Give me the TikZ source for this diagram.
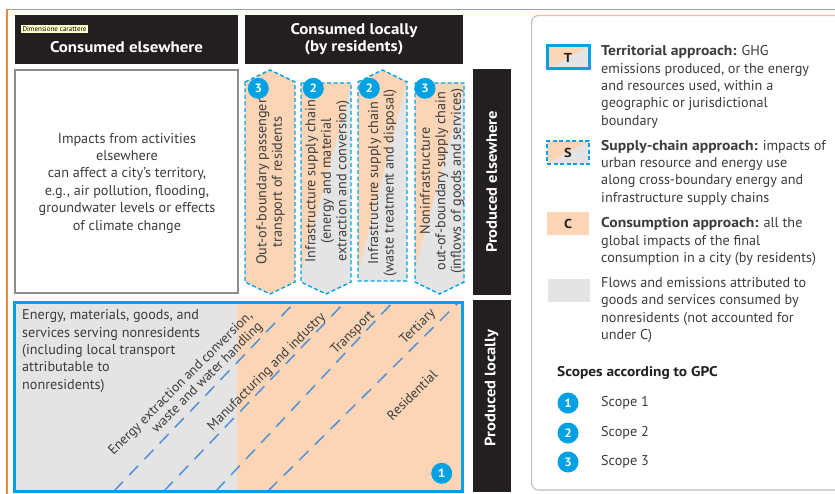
\documentclass[tikz,border=0pt]{standalone}
\usepackage{fontspec}
\setmainfont{PT Sans}[BoldFeatures={FakeStretch=1.1}]
\definecolor{cyanb}{RGB}{0,162,228}
\definecolor{dashb}{RGB}{80,145,215}
\definecolor{peach}{RGB}{251,213,182}
\definecolor{lgray}{RGB}{228,228,228}
\definecolor{hdr}{RGB}{35,31,32}
\definecolor{txt}{RGB}{60,60,60}
\definecolor{frameorange}{RGB}{233,138,60}
\definecolor{panelgray}{RGB}{195,195,195}
\definecolor{boxgray}{RGB}{140,140,140}
\definecolor{tipyellow}{RGB}{255,255,204}
\begin{document}
\begin{tikzpicture}[x=1pt,y=-1pt,
  hdrbox/.style={fill=hdr, draw=none, inner sep=0},
  hdrtext/.style={text=white, font=\fontsize{15.4}{17}\selectfont\bfseries, align=center, inner sep=0},
  sidetext/.style={text=white, font=\fontsize{15}{16}\selectfont\bfseries, rotate=90, inner sep=0},
  body/.style={text=txt, font=\fontsize{14.2}{17.4}\selectfont, inner sep=0},
  rottext/.style={text=txt, font=\fontsize{14.2}{15.5}\selectfont, align=center, rotate=90, inner sep=0},
  scopecirc/.style={circle, fill=cyanb, minimum size=21pt, inner sep=0, text=white, font=\fontsize{12}{12}\selectfont\bfseries},
  sbord/.style={draw=cyanb, line width=1.4pt, dash pattern=on 4pt off 2.5pt},
  diaglbl/.style={text=txt, font=\fontsize{13.6}{14.5}\selectfont, rotate=45, inner sep=0},
  secline/.style={draw=dashb, line width=1.5pt, dash pattern=on 13pt off 9pt},
  legkey/.style={minimum width=42pt, minimum height=23pt, inner sep=0, font=\fontsize{13}{13}\selectfont\bfseries, text=hdr},
]
\useasboundingbox (0,0) rectangle (835,494);
\fill[white] (0,0) rectangle (835,494);

% orange frame (screenshot border)
\draw[frameorange, line width=1.2pt] (835,9.3) -- (7,9.3) -- (7,494);

% ---------- headers ----------
\node[hdrbox, minimum width=223pt, minimum height=49pt] (hce) at (126.5,39.5) {};
\node[hdrtext] (hcet) at (126.5,47.5) {Consumed elsewhere};
\node[fill=tipyellow, text=black, font=\fontsize{7}{8}\selectfont, inner xsep=1.5pt, inner ysep=1.2pt] (tip) at (54.5,29) {Dimensione carattere};
\node[hdrbox, minimum width=218pt, minimum height=49pt] (hcl) at (354,39.5) {};
\node[hdrtext] (hclt) at (354,39.5) {Consumed locally\\(by residents)};

\node[hdrbox, minimum width=38pt, minimum height=226pt] (hpe) at (491.7,182) {};
\node[sidetext] (hpet) at (491.7,182) {Produced elsewhere};
\node[hdrbox, minimum width=38pt, minimum height=192pt] (hpl) at (491.7,396) {};
\node[sidetext] (hplt) at (491.7,388) {Produced locally};

% ---------- left white box ----------
\node[draw=boxgray, line width=2pt, minimum width=223pt, minimum height=223pt, inner sep=0] (imp) at (126.5,181.5) {};
\node[body, align=center] (impt) at (127,183) {Impacts from activities\\elsewhere\\can affect a city’s territory,\\e.g., air pollution, flooding,\\groundwater levels or effects\\of climate change};

% ---------- four supply-chain boxes ----------
% box 1
\fill[peach] (245,82) -- (270,70) -- (295,82) -- (295,282) -- (270,294) -- (245,282) -- cycle;
\draw[sbord] (245,82) -- (270,70) -- (295,82) -- (295,282) -- (270,294) -- (245,282) -- cycle;
% box 2
\begin{scope}
\clip (301,83) -- (351,83) -- (351,282) -- (326,294) -- (301,282) -- cycle;
\fill[lgray] (290,60) rectangle (360,300);
\fill[peach] (290,60) -- (360,60) -- (351,85) -- (301,273) -- (290,300) -- cycle;
\end{scope}
\draw[sbord] (301,83) -- (351,83) -- (351,282) -- (326,294) -- (301,282) -- cycle;
% box 3
\begin{scope}
\clip (358,82) -- (382.5,70) -- (407,82) -- (407,281) -- (358,281) -- cycle;
\fill[lgray] (350,60) rectangle (415,300);
\fill[peach] (350,60) -- (415,60) -- (407,80) -- (358,273) -- (350,300) -- cycle;
\end{scope}
\draw[sbord] (358,82) -- (382.5,70) -- (407,82) -- (407,281) -- (358,281) -- cycle;
% box 4
\begin{scope}
\clip (415,83) -- (464,83) -- (464,282) -- (439.5,294) -- (415,282) -- cycle;
\fill[lgray] (405,60) rectangle (470,300);
\fill[peach] (405,60) -- (470,60) -- (464,85) -- (415,270) -- (405,300) -- cycle;
\end{scope}
\draw[sbord] (415,83) -- (464,83) -- (464,282) -- (439.5,294) -- (415,282) -- cycle;

\node[rottext] (b1t) at (270.5,182) {Out-of-boundary passenger\\transport of residents};
\node[rottext] (b2t) at (327.5,181) {Infrastructure supply chain\\(energy and material\\extraction and conversion)};
\node[rottext] (b3t) at (382.5,183) {Infrastructure supply chain\\(waste treatment and disposal)};
\node[rottext] (b4t) at (442,181) {Noninfrastructure\\out-of-boundary supply chain\\(inflows of goods and services)};

\node[scopecirc] (s1) at (258.3,88.3) {3};
\node[scopecirc] (s2) at (313.3,88.3) {2};
\node[scopecirc] (s3) at (369.3,88.3) {2};
\node[scopecirc] (s4) at (425,88.3) {3};

% ---------- bottom (produced locally) box ----------
\fill[lgray] (14,302) rectangle (237,491);
\fill[peach] (237,302) rectangle (462,491);
\begin{scope}
\clip (14,302) rectangle (462,491);
\foreach \bx/\tx/\nm in {114/295/la,164/345/lb,216/393/lc,268/459/ld}{
  \coordinate (\nm b) at (\bx,491);
  \coordinate (\nm t) at (\tx,302);
  \draw[secline] (\nm b) -- (\nm t);
}
\end{scope}
\node[body, anchor=west, align=left] (loct) at (22,351) {Energy, materials, goods, and\\services serving nonresidents\\(including local transport\\attributable to\\nonresidents)};
\node[diaglbl, align=right] (l1) at (186,389) {Energy extraction and conversion,\\waste and water handling};
\node[diaglbl] (l2) at (267,372) {Manufacturing and industry};
\node[diaglbl] (l3) at (353,333) {Transport};
\node[diaglbl] (l4) at (418,327) {Tertiary};
\node[diaglbl] (l5) at (412,395) {Residential};
\draw[cyanb, line width=3pt] (14,302) rectangle (462,491);
\node[scopecirc] (s5) at (441.7,473.3) {1};

% ---------- legend ----------
\draw[panelgray, line width=1.2pt, rounded corners=7pt] (531.5,15.5) rectangle (860,490);

% T key
\begin{scope}
\clip (547,46) rectangle (589,69);
\fill[lgray] (547,46) rectangle (589,69);
\fill[peach] (547,46) -- (589,46) -- (547,69) -- cycle;
\end{scope}
\node[legkey, draw=cyanb, line width=3pt] (kT) at (568,57.5) {T};
\node[body, anchor=west, align=left] (tT) at (601,87) {\textbf{Territorial approach:} GHG\\emissions produced, or the energy\\and resources used, within a\\geographic or jurisdictional\\boundary};

% S key
\begin{scope}
\clip (547,141) rectangle (589,164);
\fill[lgray] (547,141) rectangle (589,164);
\fill[peach] (547,141) -- (589,141) -- (547,164) -- cycle;
\end{scope}
\node[legkey, sbord] (kS) at (568,152.5) {S};
\node[body, anchor=west, align=left] (tS) at (601,172.5) {\textbf{Supply-chain approach:} impacts of\\urban resource and energy use\\along cross-boundary energy and\\infrastructure supply chains};

% C key
\node[legkey, fill=peach] (kC) at (568,224) {C};
\node[body, anchor=west, align=left] (tC) at (601,241.5) {\textbf{Consumption approach:} all the\\global impacts of the final\\consumption in a city (by residents)};

% gray key
\node[legkey, fill=lgray] (kG) at (568.5,290.5) {};
\node[body, anchor=west, align=left] (tG) at (601,310) {Flows and emissions attributed to\\goods and services consumed by\\nonresidents (not accounted for\\under C)};

% scopes
\node[body, anchor=west, font=\fontsize{14}{15}\selectfont\bfseries, text=hdr] (sg) at (557,373) {Scopes according to GPC};
\node[scopecirc] (c1) at (568,403) {1};
\node[scopecirc] (c2) at (568,433) {2};
\node[scopecirc] (c3) at (568,462) {3};
\node[body, anchor=west] (c1t) at (601,403) {Scope 1};
\node[body, anchor=west] (c2t) at (601,433) {Scope 2};
\node[body, anchor=west] (c3t) at (601,462) {Scope 3};
\end{tikzpicture}
\end{document}
